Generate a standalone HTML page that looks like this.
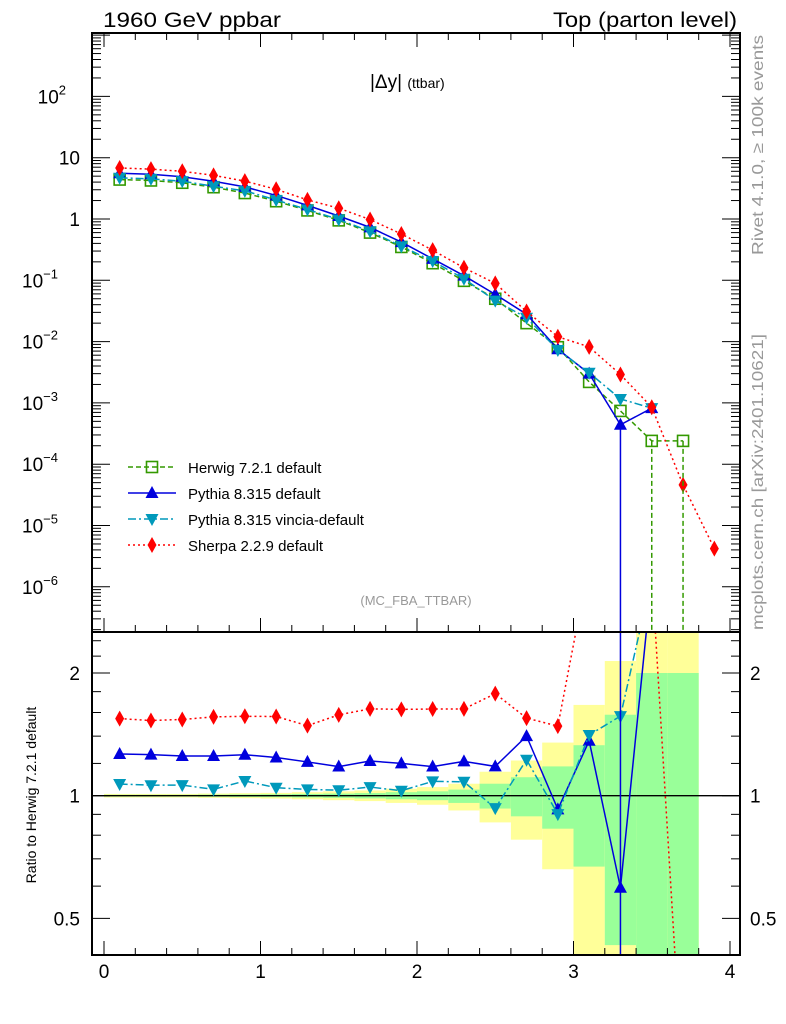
<!DOCTYPE html>
<html><head><meta charset="utf-8"><style>
html,body{margin:0;padding:0;background:#fff;overflow:hidden;width:786px;height:1024px;}
svg{display:block;font-family:"Liberation Sans",sans-serif;}
</style></head><body>
<svg id="chart" width="786" height="1024" viewBox="0 0 786 1024" xmlns="http://www.w3.org/2000/svg">
<rect x="0" y="0" width="786" height="1024" fill="#fff"/>
<g id="bands"></g>
<g id="ticks"></g>
<g id="series"></g>
<rect x="92" y="33" width="648" height="599" fill="none" stroke="#000" stroke-width="2"/>
<rect x="92" y="632" width="648" height="323" fill="none" stroke="#000" stroke-width="2"/>
<text x="103" y="27" font-size="21" textLength="178" lengthAdjust="spacingAndGlyphs">1960 GeV ppbar</text>
<text x="553" y="27" font-size="21" textLength="184" lengthAdjust="spacingAndGlyphs">Top (parton level)</text>
<text x="370" y="88" font-size="19">|Δy| <tspan font-size="14">(ttbar)</tspan></text>
<text x="416" y="605" font-size="13" fill="#999" text-anchor="middle">(MC_FBA_TTBAR)</text>
<text transform="translate(763,145) rotate(-90)" font-size="16" fill="#999" text-anchor="middle" textLength="220" lengthAdjust="spacingAndGlyphs">Rivet 4.1.0, ≥ 100k events</text>
<text transform="translate(763,482) rotate(-90)" font-size="16" fill="#999" text-anchor="middle" textLength="296" lengthAdjust="spacingAndGlyphs">mcplots.cern.ch [arXiv:2401.10621]</text>
<text transform="translate(36,795) rotate(-90)" font-size="14" text-anchor="middle">Ratio to Herwig 7.2.1 default</text>
<g id="legend"></g>
</svg>
<script>
const xCenters=[0.1,0.3,0.5,0.7,0.9,1.1,1.3,1.5,1.7,1.9,2.1,2.3,2.5,2.7,2.9,3.1,3.3,3.5,3.7,3.9];
const herwig=[4.4,4.25,3.9,3.3,2.65,1.95,1.38,0.95,0.6,0.35,0.19,0.098,0.05,0.020,0.0081,0.0022,0.00074,0.00024,0.00024];
const pythia=[5.57,5.36,4.88,4.13,3.34,2.42,1.67,1.12,0.73,0.42,0.224,0.119,0.059,0.028,0.0075,0.0030,0.00044,0.00082];
const vincia=[4.70,4.51,4.14,3.42,2.88,2.04,1.43,0.98,0.63,0.36,0.206,0.106,0.0466,0.0245,0.0073,0.0031,0.00116,0.00082];
const sherpa=[6.8,6.5,6.0,5.15,4.15,3.05,2.05,1.5,0.98,0.57,0.31,0.16,0.089,0.031,0.012,0.0082,0.0029,0.00085,0.000046,0.0000042];
const bandEdges=[0,0.2,0.4,0.6,0.8,1.0,1.2,1.4,1.6,1.8,2.0,2.2,2.4,2.6,2.8,3.0,3.2,3.4,3.6,3.8];
const yellowHi=[1.01,1.01,1.01,1.012,1.014,1.016,1.02,1.025,1.03,1.04,1.05,1.07,1.145,1.22,1.35,1.67,2.14,3,3];
const yellowLo=[0.99,0.99,0.99,0.988,0.986,0.984,0.98,0.975,0.97,0.96,0.95,0.92,0.86,0.78,0.66,0.3,0.3,0.3,0.3];
const greenHi=[1.005,1.005,1.005,1.006,1.007,1.008,1.01,1.012,1.015,1.02,1.025,1.035,1.07,1.11,1.18,1.33,1.58,2.0,2.0];
const greenLo=[0.995,0.995,0.995,0.994,0.993,0.992,0.99,0.988,0.985,0.98,0.975,0.96,0.93,0.89,0.83,0.67,0.43,0.3,0.3];
const xTickLabels=["0","1","2","3","4"];
const mainTickExps=[-6,-5,-4,-3,-2,-1,0,1,2];
const ratioTickLabels=[0.5,1,2];

const NS="http://www.w3.org/2000/svg";
const X0=92,X1=740,MT=33,MB=632,RT=632,RB=955;
function sx(v){return 104+v*156.5;}
function sy(v){return 219-61.3*Math.log10(v);}
function sr(r){return 795.7-122.7*Math.log2(r);}
function mk(tag,attrs,parent){const e=document.createElementNS(NS,tag);for(const k in attrs)e.setAttribute(k,attrs[k]);parent.appendChild(e);return e;}
const bands=document.getElementById('bands'),ticks=document.getElementById('ticks'),series=document.getElementById('series'),legend=document.getElementById('legend');

const defs=mk('defs',{},document.getElementById('chart'));
const cm=mk('clipPath',{id:'cm'},defs);mk('rect',{x:X0,y:MT,width:X1-X0,height:MB-MT},cm);
const cr=mk('clipPath',{id:'cr'},defs);mk('rect',{x:X0,y:RT,width:X1-X0,height:RB-RT},cr);

const clipR=v=>Math.max(RT,Math.min(RB,v));
for(let i=0;i<yellowHi.length;i++){
  const xa=sx(bandEdges[i]),xb=sx(bandEdges[i]+0.2);
  const y=mk('rect',{x:xa,y:clipR(sr(yellowHi[i])),width:xb-xa,height:clipR(sr(yellowLo[i]))-clipR(sr(yellowHi[i])),fill:'#ffff99'},bands);
  
  
  const g=mk('rect',{x:xa,y:clipR(sr(greenHi[i])),width:xb-xa,height:clipR(sr(greenLo[i]))-clipR(sr(greenHi[i])),fill:'#99ff99'},bands);
  
  
}
const one=mk('line',{x1:X0,x2:X1,y1:sr(1),y2:sr(1),stroke:'#000','stroke-width':1.3},bands);



for(let v=0;v<=4.0001;v+=0.2){
  const major=Math.abs(v-Math.round(v))<1e-6, len=major?14:7, x=sx(v);
  [[MB,-1],[MT,1],[RB,-1]].forEach(([y0,d])=>mk('line',{x1:x,x2:x,y1:y0,y2:y0+d*len,stroke:'#000','stroke-width':1},ticks));
}
xTickLabels.forEach((t,i)=>{const e=mk('text',{x:sx(i),y:978,'font-size':19,'text-anchor':'middle'},ticks);e.textContent=t;
 
 });
for(let e=-7;e<=3;e++){for(let m=1;m<10;m++){const v=m*Math.pow(10,e),y=sy(v);if(y<MT||y>MB)continue;
  const len=m==1?18:9;
  mk('line',{x1:X0,x2:X0+len,y1:y,y2:y,stroke:'#000','stroke-width':1},ticks);
  mk('line',{x1:X1,x2:X1-len,y1:y,y2:y,stroke:'#000','stroke-width':1},ticks);}}
mainTickExps.forEach(e=>{const y=sy(Math.pow(10,e))+7;const t=mk('text',{x:80,y:y,'font-size':19,'text-anchor':'end'},ticks);
 
 
 if(e==0)t.textContent='1';else if(e==1)t.textContent='10';
 else{t.textContent='10';const s=mk('tspan',{dy:-9,'font-size':13},t);s.textContent=String(e).replace('-','−');t.setAttribute('x',66-(e<0?8:0));}});
[0.4,0.5,0.6,0.7,0.8,0.9,1,1.2,1.4,1.6,1.8,2,2.2,2.4].forEach(r=>{const y=sr(r);if(y<RT||y>RB)return;const len=(r==0.5||r==1||r==2)?18:9;
  mk('line',{x1:X0,x2:X0+len,y1:y,y2:y,stroke:'#000'},ticks);mk('line',{x1:X1,x2:X1-len,y1:y,y2:y,stroke:'#000'},ticks);});
ratioTickLabels.forEach(r=>{const y=sr(r)+7;
 const a=mk('text',{x:80,y:y,'font-size':19,'text-anchor':'end'},ticks);a.textContent=String(r);
 
 
 const b=mk('text',{x:750,y:y,'font-size':19},ticks);b.textContent=String(r);
 
 });

function marker(type,x,y,color,g){
  if(type=='sq')mk('rect',{x:x-5.5,y:y-5.5,width:11,height:11,fill:'none',stroke:color,'stroke-width':1.6},g);
  else if(type=='up')mk('polygon',{points:`${x},${y-7} ${x-6.5},${y+5} ${x+6.5},${y+5}`,fill:color},g);
  else if(type=='dn')mk('polygon',{points:`${x},${y+7} ${x-6.5},${y-5} ${x+6.5},${y-5}`,fill:color},g);
  else mk('polygon',{points:`${x},${y-8} ${x-4.5},${y} ${x},${y+8} ${x+4.5},${y}`,fill:color},g);
}
const defsS=[
 {name:'herwig',data:herwig,color:'#339900',dash:'5,3',mk:'sq',label:'Herwig 7.2.1 default'},
 {name:'pythia',data:pythia,color:'#0000dd',dash:'',mk:'up',label:'Pythia 8.315 default'},
 {name:'vincia',data:vincia,color:'#0099bb',dash:'8,3,2,3',mk:'dn',label:'Pythia 8.315 vincia-default'},
 {name:'sherpa',data:sherpa,color:'#ff0000',dash:'2,3',mk:'dia',label:'Sherpa 2.2.9 default'}];
defsS.forEach(s=>{
  const g=mk('g',{'clip-path':'url(#cm)'},series);
  
  
  const pts=s.data.map((v,i)=>[sx(xCenters[i]),sy(v)]);
  mk('polyline',{points:pts.map(p=>p.join(',')).join(' '),fill:'none',stroke:s.color,'stroke-width':1.5,'stroke-dasharray':s.dash},g);
  pts.forEach(p=>marker(s.mk,p[0],p[1],s.color,g));
  if(s.name!='herwig'){
    const gr=mk('g',{'clip-path':'url(#cr)'},series);
    
    
    const rp=[];s.data.forEach((v,i)=>{if(i<herwig.length)rp.push([sx(xCenters[i]),sr(v/herwig[i])]);});
    mk('polyline',{points:rp.map(p=>p.join(',')).join(' '),fill:'none',stroke:s.color,'stroke-width':1.5,'stroke-dasharray':s.dash},gr);
    rp.forEach(p=>marker(s.mk,p[0],p[1],s.color,gr));
  }
});
const d1=mk('line',{x1:sx(3.3),x2:sx(3.3),y1:sy(pythia[16]),y2:MB,stroke:'#0000dd','stroke-width':1.5},series);


[3.5,3.7].forEach((x,k)=>{const l=mk('line',{x1:sx(x),x2:sx(x),y1:sy(herwig[17+k]),y2:MB,stroke:'#339900','stroke-width':1.5,'stroke-dasharray':'5,3'},series);
 
 });
const d2=mk('line',{x1:sx(3.3),x2:sx(3.3),y1:RT,y2:RB,stroke:'#0000dd','stroke-width':1.5},series);



defsS.forEach((s,i)=>{const y=467+i*26;const g=mk('g',{},legend);
  
  
  mk('line',{x1:128,x2:176,y1:y,y2:y,stroke:s.color,'stroke-width':1.5,'stroke-dasharray':s.dash},g);
  marker(s.mk,152,y,s.color,g);
  const t=mk('text',{x:188,y:y+6,'font-size':15},g);t.textContent=s.label;});
</script>
</body></html>
